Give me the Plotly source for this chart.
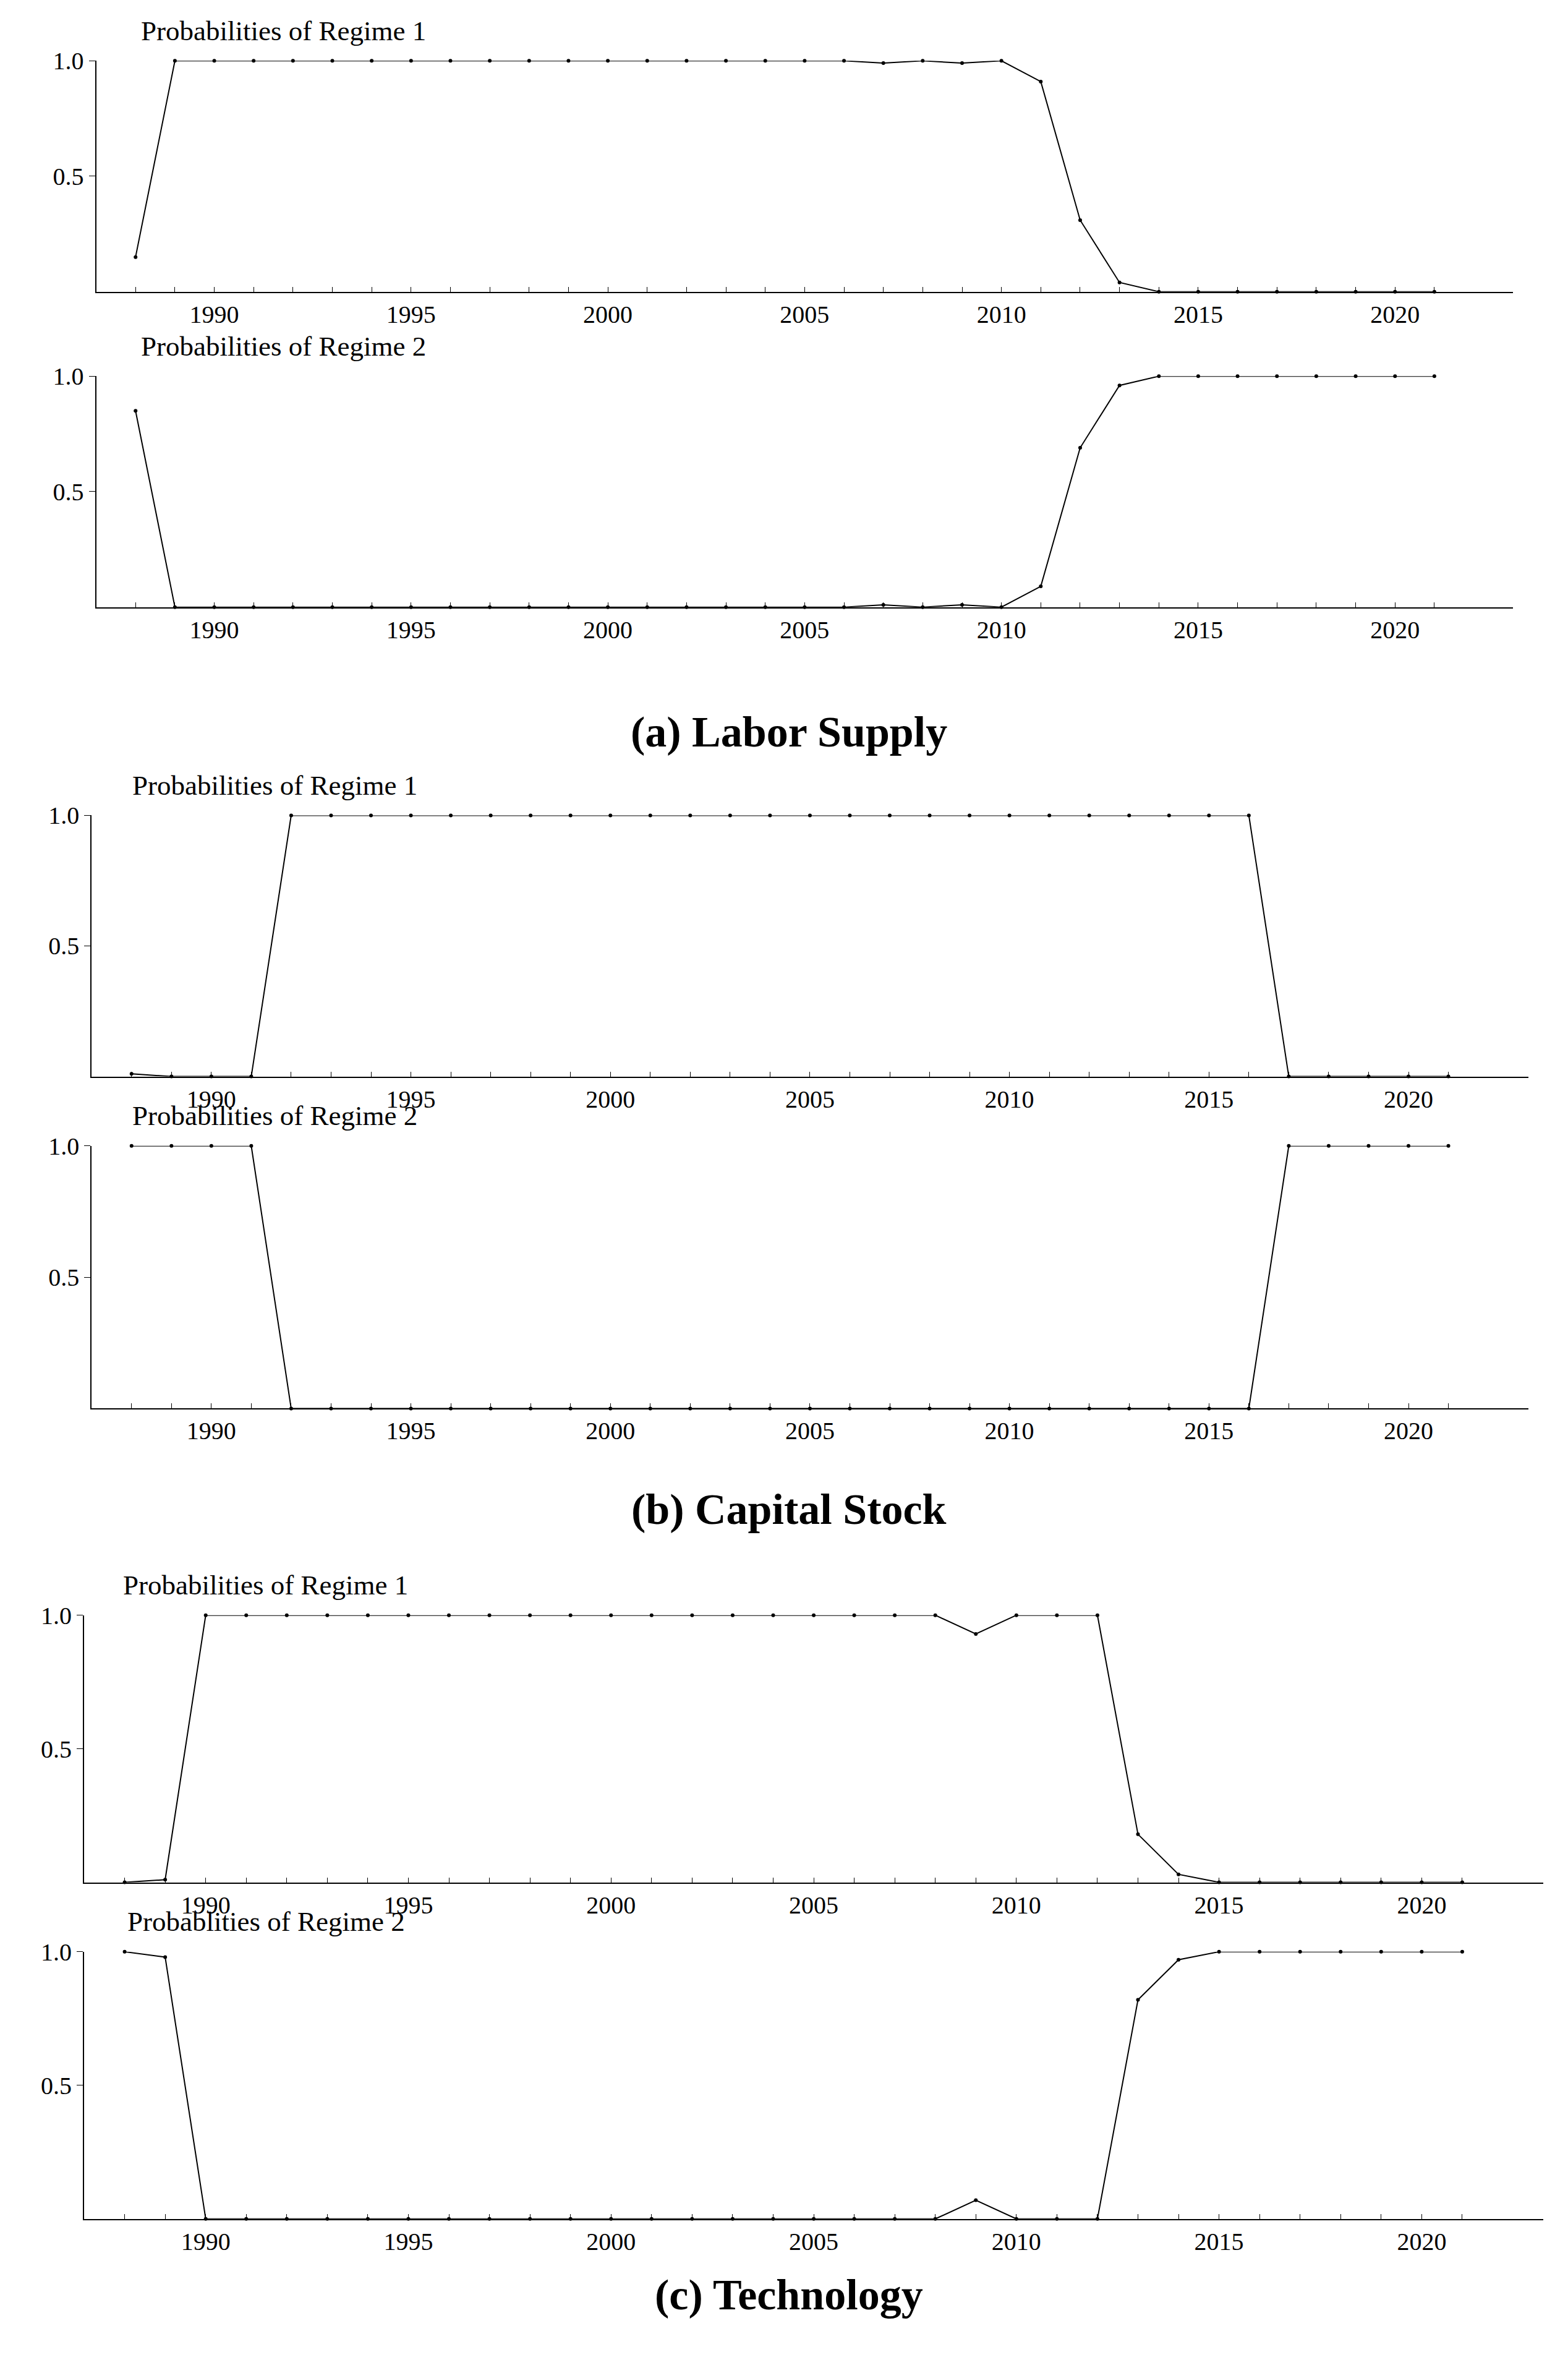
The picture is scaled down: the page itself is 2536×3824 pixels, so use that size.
import plotly.graph_objects as go

years = list(range(1988, 2022))
labor_r1 = [0.15] + [1.0]*18 + [0.99, 1.0, 0.99, 1.0, 0.91, 0.31, 0.04] + [0.0]*8
labor_r2 = [round(1 - v, 2) for v in labor_r1]
capital_r1 = [0.01, 0.0, 0.0, 0.0] + [1.0]*25 + [0.0]*5
capital_r2 = [1.0, 1.0, 1.0, 1.0] + [0.0]*25 + [1.0]*5
tech_r1 = [0.0, 0.01] + [1.0]*19 + [0.93, 1.0, 1.0, 1.0, 0.18, 0.03] + [0.0]*7
tech_r2 = [1.0, 0.98] + [0.0]*19 + [0.07, 0.0, 0.0, 0.0, 0.82, 0.97] + [1.0]*7

titles = ["Probabilities of Regime 1", "Probabilities of Regime 2"]*2 + ["Probabilities of Regime 1", "Probablities of Regime 2"]
series = [labor_r1, labor_r2, capital_r1, capital_r2, tech_r1, tech_r2]
captions = ["<b>(a) Labor Supply</b>", "<b>(b) Capital Stock</b>", "<b>(c) Technology</b>"]

W, H = 2536, 3824
S = 2.415
def cy(y):
    return (y - 12) / 0.984
def cx(x):
    return (x - 4.6) / 0.9885
# displayed coords: (left, right, y_top(1.0), y_zero, title_x)
panels = [
    (65, 1003, 40, 193, 94), (65, 1003, 249, 402, 94),
    (62, 1013, 540, 713, 88), (62, 1013, 759, 933, 88),
    (57, 1023, 1070, 1247, 82), (57, 1023, 1293, 1470, 85),
]
cap_y = [468, 1000, 1537]

fig = go.Figure()
font = "Liberation Serif"
for i, (l, r, yt, yz, tx) in enumerate(panels):
    n = i + 1
    xa = "x" if n == 1 else f"x{n}"
    ya = "y" if n == 1 else f"y{n}"
    fig.add_trace(go.Scatter(x=years, y=series[i], mode="lines+markers", xaxis=xa, yaxis=ya,
                             line=dict(color="black", width=2), marker=dict(color="black", size=6),
                             cliponaxis=False, showlegend=False))
    dom_x = [cx(l)*S/W, cx(r)*S/W]
    dom_y = [1 - cy(yz)*S/H, 1 - cy(yt)*S/H]
    key = "" if n == 1 else str(n)
    fig.layout["xaxis"+key] = dict(domain=dom_x, range=[1987, 2023], anchor=ya, showline=True,
        linecolor="black", linewidth=2, ticks="inside", tickcolor="black", ticklen=8,
        tickvals=years, ticktext=[str(y) if y % 5 == 0 else "" for y in years],
        showgrid=False, zeroline=False, tickfont=dict(family=font, size=40, color="black"))
    fig.layout["yaxis"+key] = dict(domain=dom_y, range=[0, 1], anchor=xa, showline=True,
        linecolor="black", linewidth=2, ticks="outside", tickcolor="black", ticklen=10,
        tickvals=[0.5, 1.0], ticktext=["0.5", "1.0"], showgrid=False, zeroline=False,
        tickfont=dict(family=font, size=40, color="black"))
    fig.add_annotation(x=cx(tx)*S/W, y=1 - cy(yt - 20)*S/H, xref="paper", yref="paper",
                       text=titles[i], showarrow=False, xanchor="left", yanchor="middle",
                       font=dict(family=font, size=45, color="black"))
for c, yc in zip(captions, cap_y):
    fig.add_annotation(x=0.5, y=1 - cy(yc)*S/H, xref="paper", yref="paper", text=c, showarrow=False,
                       font=dict(family=font, size=70, color="black"))

fig.update_layout(width=W, height=H, margin=dict(l=0, r=0, t=0, b=0),
                  plot_bgcolor="white", paper_bgcolor="white")
fig.write_html("out.html")
